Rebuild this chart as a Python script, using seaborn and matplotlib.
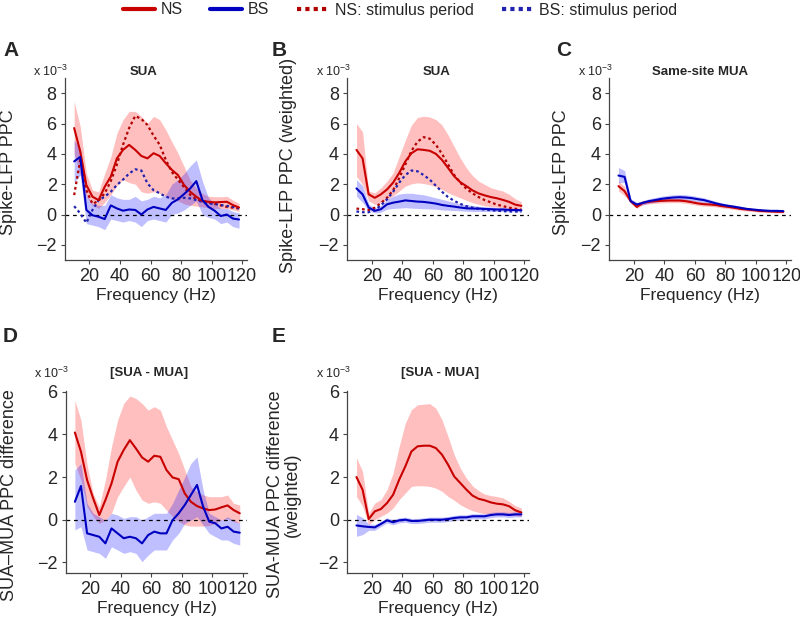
import matplotlib
matplotlib.use('Agg')
import matplotlib.pyplot as plt
from matplotlib.lines import Line2D
import numpy as np
import pandas as pd
import seaborn as sns

# frequency axis (Hz)
freq = list(range(10, 119, 4))

# ---- panel A: SUA ----
a_ns = [5.7, 4.15, 1.94, 1.17, 0.95, 1.83, 2.5, 3.7, 4.26, 4.59, 4.26, 3.86, 3.7, 4.04,
        3.86, 3.38, 2.94, 2.6, 1.94, 1.5, 1.17, 0.88, 0.84, 0.8, 0.82, 0.84, 0.62, 0.46]
a_ns_hi = [7.46, 5.8, 2.7, 1.6, 1.5, 2.7, 3.8, 5.36, 6.25, 6.8, 6.8, 6.47, 6.0, 6.47,
           6.25, 5.58, 4.8, 4.04, 3.16, 2.27, 1.72, 1.39, 1.2, 1.17, 1.17, 1.2, 0.95, 0.73]
a_ns_lo = [4.0, 2.6, 1.2, 0.6, 0.4, 0.8, 1.3, 1.9, 2.3, 2.1, 2.0, 1.5, 1.4, 1.5,
           1.4, 1.2, 1.0, 0.9, 0.7, 0.6, 0.55, 0.5, 0.45, 0.4, 0.4, 0.4, 0.3, 0.2]
a_bs = [3.5, 3.8, 0.3, -0.05, -0.15, -0.3, 0.6, 0.4, 0.25, 0.33, 0.3, 0.0, 0.33, 0.5,
        0.4, 0.3, 0.77, 1.0, 1.35, 1.72, 2.2, 0.95, 0.5, 0.25, -0.1, 0.0, -0.27, -0.33]
a_bs_hi = [4.9, 4.4, 1.3, 0.7, 0.6, 0.6, 1.3, 1.1, 1.0, 1.0, 1.2, 0.9, 1.0, 1.2,
           1.1, 1.3, 2.0, 2.3, 2.7, 3.2, 3.6, 2.2, 1.1, 0.7, 0.4, 0.4, 0.2, 0.1]
a_bs_lo = [2.1, 2.6, -0.6, -0.7, -0.8, -1.0, -0.3, -0.4, -0.5, -0.4, -0.5, -0.8, -0.4, -0.3,
           -0.4, -0.5, 0.0, 0.1, 0.3, 0.6, 0.9, 0.0, -0.2, -0.3, -0.6, -0.5, -0.8, -0.9]
a_ns_stim = [1.28, 3.6, 1.6, 0.7, 0.9, 1.4, 2.2, 3.3, 4.6, 5.7, 6.5, 6.3, 5.9, 5.2,
             4.6, 3.6, 2.8, 2.3, 1.8, 1.3, 1.0, 0.9, 0.8, 0.7, 0.6, 0.5, 0.45, 0.4]
a_bs_stim = [0.55, 0.07, -0.55, 0.3, 0.95, 1.17, 1.5, 1.95, 2.3, 2.7, 2.98, 2.9, 2.05, 1.6,
             1.4, 1.17, 1.06, 1.06, 1.1, 1.06, 0.95, 0.84, 0.73, 0.7, 0.62, 0.57, 0.5, 0.4]

# ---- panel B: SUA weighted ----
b_ns = [4.26, 3.7, 1.33, 1.1, 1.33, 1.65, 2.1, 2.74, 3.5, 4.04, 4.3, 4.26, 4.2, 4.0,
        3.6, 3.07, 2.52, 2.13, 1.87, 1.59, 1.39, 1.26, 1.15, 1.07, 0.96, 0.83, 0.65, 0.57]
b_ns_hi = [6.0, 5.45, 1.54, 1.43, 1.76, 2.2, 2.74, 3.83, 4.9, 5.9, 6.4, 6.48, 6.43, 6.26,
           5.9, 5.24, 4.48, 3.72, 3.07, 2.57, 2.2, 1.98, 1.76, 1.65, 1.54, 1.33, 1.04, 0.83]
b_ns_lo = [2.52, 1.98, 0.89, 0.67, 0.78, 1.0, 1.22, 1.54, 1.87, 2.02, 2.09, 2.04, 1.96, 1.83,
           1.65, 1.43, 1.26, 1.1, 0.93, 0.78, 0.67, 0.57, 0.52, 0.48, 0.43, 0.39, 0.35, 0.3]
b_bs = [1.72, 1.33, 0.46, 0.24, 0.35, 0.67, 0.78, 0.85, 0.93, 0.89, 0.85, 0.83, 0.78, 0.72,
        0.63, 0.57, 0.52, 0.46, 0.41, 0.39, 0.39, 0.37, 0.35, 0.33, 0.33, 0.3, 0.3, 0.28]
b_bs_hi = [2.3, 1.9, 0.7, 0.4, 0.6, 1.0, 1.2, 1.35, 1.4, 1.4, 1.35, 1.3, 1.2, 1.1,
           1.0, 0.9, 0.8, 0.7, 0.65, 0.6, 0.55, 0.5, 0.5, 0.45, 0.45, 0.42, 0.4, 0.38]
b_bs_lo = [1.2, 0.8, 0.25, 0.1, 0.15, 0.35, 0.4, 0.42, 0.45, 0.42, 0.4, 0.38, 0.37, 0.35,
           0.3, 0.28, 0.26, 0.24, 0.22, 0.2, 0.2, 0.2, 0.2, 0.2, 0.2, 0.18, 0.18, 0.18]
b_ns_stim = [0.39, 0.35, 0.3, 0.45, 0.75, 1.1, 1.6, 2.4, 3.3, 4.2, 4.8, 5.1, 5.0, 4.6,
             4.0, 3.3, 2.6, 2.1, 1.7, 1.4, 1.15, 0.95, 0.8, 0.65, 0.55, 0.45, 0.38, 0.32]
b_bs_stim = [0.2, 0.15, 0.15, 0.3, 0.6, 1.0, 1.5, 2.1, 2.6, 2.9, 2.85, 2.6, 2.3, 1.9,
             1.5, 1.15, 0.9, 0.7, 0.55, 0.45, 0.38, 0.32, 0.28, 0.25, 0.22, 0.2, 0.2, 0.18]

# ---- panel C: same-site MUA ----
c_ns = [1.87, 1.54, 0.88, 0.5, 0.77, 0.84, 0.88, 0.9, 0.92, 0.92, 0.92, 0.88, 0.81, 0.73,
        0.68, 0.66, 0.62, 0.55, 0.5, 0.44, 0.37, 0.33, 0.29, 0.24, 0.22, 0.2, 0.18, 0.18]
c_ns_hi = [2.2, 1.85, 1.0, 0.62, 0.9, 0.98, 1.02, 1.04, 1.06, 1.06, 1.06, 1.02, 0.95, 0.87,
           0.82, 0.79, 0.75, 0.68, 0.62, 0.56, 0.48, 0.44, 0.39, 0.34, 0.31, 0.29, 0.27, 0.27]
c_ns_lo = [1.55, 1.25, 0.76, 0.4, 0.64, 0.7, 0.74, 0.76, 0.78, 0.78, 0.78, 0.74, 0.67, 0.6,
           0.55, 0.53, 0.5, 0.43, 0.39, 0.33, 0.27, 0.23, 0.2, 0.15, 0.14, 0.12, 0.1, 0.1]
c_bs = [2.57, 2.48, 0.88, 0.66, 0.77, 0.88, 0.95, 1.03, 1.08, 1.12, 1.14, 1.12, 1.08, 1.01,
        0.95, 0.84, 0.73, 0.64, 0.57, 0.51, 0.44, 0.37, 0.33, 0.29, 0.26, 0.24, 0.24, 0.22]
c_bs_hi = [3.1, 2.9, 1.05, 0.8, 0.92, 1.04, 1.12, 1.2, 1.26, 1.3, 1.32, 1.3, 1.25, 1.17,
           1.1, 0.98, 0.86, 0.76, 0.68, 0.61, 0.54, 0.46, 0.41, 0.37, 0.33, 0.31, 0.31, 0.29]
c_bs_lo = [2.1, 2.1, 0.75, 0.55, 0.64, 0.74, 0.8, 0.87, 0.91, 0.95, 0.97, 0.95, 0.92, 0.86,
           0.8, 0.71, 0.61, 0.53, 0.47, 0.42, 0.35, 0.29, 0.26, 0.22, 0.2, 0.18, 0.18, 0.16]

# ---- panel D: SUA - MUA ----
d_ns = [4.09, 3.19, 1.86, 1.0, 0.22, 0.92, 1.7, 2.72, 3.27, 3.73, 3.34, 2.92, 2.72, 3.0,
        2.95, 2.33, 1.98, 1.9, 1.23, 0.84, 0.64, 0.53, 0.45, 0.48, 0.58, 0.67, 0.45, 0.3]
d_ns_hi = [5.6, 4.67, 2.56, 1.23, 0.6, 1.86, 3.42, 4.67, 5.45, 5.8, 5.69, 5.45, 5.14, 5.3,
           5.14, 4.36, 3.73, 3.1, 2.33, 1.55, 1.3, 1.16, 1.08, 1.08, 1.08, 1.16, 0.77, 0.69]
d_ns_lo = [2.64, 1.86, 0.6, 0.14, -0.17, -0.02, 0.3, 1.08, 1.55, 2.0, 1.39, 0.92, 0.77, 0.84,
           0.77, 0.45, 0.14, -0.09, -0.25, -0.3, -0.3, -0.3, -0.27, -0.17, -0.02, 0.06, -0.09, -0.17]
d_bs = [0.84, 1.58, -0.64, -0.72, -0.8, -1.11, -0.41, -0.64, -0.87, -0.8, -0.87, -1.11, -0.72, -0.56,
        -0.64, -0.64, -0.02, 0.3, 0.69, 1.16, 1.63, 0.61, -0.09, -0.17, -0.41, -0.33, -0.56, -0.61]
d_bs_hi = [2.33, 2.64, 0.77, 0.3, 0.14, -0.02, 0.3, 0.22, 0.06, 0.14, 0.14, -0.02, 0.14, 0.3,
           0.3, 0.3, 0.77, 1.39, 2.0, 2.64, 2.95, 1.39, 0.3, 0.14, -0.02, 0.14, -0.02, -0.17]
d_bs_lo = [-0.48, -0.33, -1.42, -1.5, -1.58, -1.81, -1.27, -1.42, -1.58, -1.5, -1.58, -1.97, -1.66, -1.42,
           -1.42, -1.42, -0.95, -0.64, -0.17, -0.02, 0.14, -0.25, -0.64, -0.8, -0.95, -0.95, -1.11, -1.19]

# ---- panel E: SUA - MUA weighted ----
e_ns = [2.0, 1.41, 0.03, 0.39, 0.5, 0.78, 1.17, 1.88, 2.5, 3.2, 3.44, 3.47, 3.47, 3.36,
        3.05, 2.58, 2.03, 1.72, 1.41, 1.13, 0.98, 0.91, 0.81, 0.75, 0.72, 0.63, 0.44, 0.34]
e_ns_hi = [2.9, 2.27, 0.31, 0.78, 0.94, 1.41, 2.19, 3.44, 4.53, 5.16, 5.39, 5.42, 5.44, 5.23,
           4.69, 3.9, 3.05, 2.42, 1.95, 1.59, 1.36, 1.2, 1.13, 1.09, 1.02, 0.86, 0.66, 0.55]
e_ns_lo = [1.09, 0.63, -0.23, 0.0, 0.16, 0.31, 0.55, 0.94, 1.25, 1.56, 1.59, 1.59, 1.56, 1.48,
           1.33, 1.09, 0.91, 0.7, 0.55, 0.42, 0.34, 0.28, 0.27, 0.23, 0.23, 0.23, 0.2, 0.16]
e_bs = [-0.27, -0.31, -0.34, -0.36, -0.2, -0.03, -0.12, -0.03, 0.0, -0.06, -0.06, -0.03, 0.0, 0.0,
        0.0, 0.03, 0.08, 0.11, 0.11, 0.16, 0.16, 0.16, 0.22, 0.25, 0.25, 0.22, 0.25, 0.25]
e_bs_hi = [0.25, 0.1, -0.2, -0.22, -0.08, 0.09, 0.0, 0.09, 0.12, 0.06, 0.06, 0.09, 0.12, 0.12,
           0.12, 0.15, 0.2, 0.23, 0.23, 0.28, 0.28, 0.28, 0.34, 0.37, 0.37, 0.34, 0.37, 0.37]
e_bs_lo = [-0.78, -0.7, -0.5, -0.5, -0.32, -0.15, -0.24, -0.15, -0.12, -0.18, -0.18, -0.15, -0.12, -0.12,
           -0.12, -0.09, -0.04, -0.01, -0.01, 0.04, 0.04, 0.04, 0.1, 0.13, 0.13, 0.1, 0.13, 0.13]

NS_C = '#C80000'
BS_C = '#0000C0'
NS_STIM = '#B00000'
BS_STIM = '#2222B0'

sns.set_style('ticks')
plt.rcParams['font.family'] = ['Liberation Sans', 'DejaVu Sans']
plt.rcParams['mathtext.fontset'] = 'custom'
plt.rcParams['mathtext.rm'] = 'Liberation Sans'

fig = plt.figure(figsize=(8, 6.17), dpi=100)
W, H = 800, 617


def make_ax(left, top, bottom):
    return fig.add_axes([left / W, 1 - bottom / H, 181.7 / W, (bottom - top) / H])


def draw_panel(ax, ns, ns_lo, ns_hi, bs, bs_lo, bs_hi, ns_stim=None, bs_stim=None,
               ylim=(-3, 9), yticks=(-2, 0, 2, 4, 6, 8)):
    ax.fill_between(freq, ns_lo, ns_hi, color=(1, 0, 0), alpha=0.25, lw=0)
    ax.fill_between(freq, bs_lo, bs_hi, color=(0, 0, 1), alpha=0.25, lw=0)
    ax.axhline(0, color='black', lw=0.9, dashes=(3, 3), zorder=1)
    if ns_stim is not None:
        sns.lineplot(x=freq, y=ns_stim, ax=ax, color=NS_STIM, lw=1.6)
        ax.lines[-1].set_dashes((1.2, 1.3))
        sns.lineplot(x=freq, y=bs_stim, ax=ax, color=BS_STIM, lw=1.6)
        ax.lines[-1].set_dashes((1.2, 1.3))
    sns.lineplot(x=freq, y=ns, ax=ax, color=NS_C, lw=1.5)
    sns.lineplot(x=freq, y=bs, ax=ax, color=BS_C, lw=1.5)
    ax.set_xlim(4, 123)
    ax.set_ylim(*ylim)
    ax.set_xticks([20, 40, 60, 80, 100, 120])
    ax.set_yticks(list(yticks))
    ax.tick_params(labelsize=13, length=3, width=0.8, color='#444444', pad=3)
    for s in ['top', 'right']:
        ax.spines[s].set_visible(False)
    for s in ['left', 'bottom']:
        ax.spines[s].set_color('#444444')
        ax.spines[s].set_linewidth(0.9)
    ax.set_xlabel('Frequency (Hz)', fontsize=12.5, labelpad=2)


axA = make_ax(65, 78, 260)
axB = make_ax(347.3, 78, 260)
axC = make_ax(609.3, 78, 260)
axD = make_ax(65.7, 390.7, 573)
axE = make_ax(347.3, 390.7, 573)

draw_panel(axA, a_ns, a_ns_lo, a_ns_hi, a_bs, a_bs_lo, a_bs_hi, a_ns_stim, a_bs_stim)
draw_panel(axB, b_ns, b_ns_lo, b_ns_hi, b_bs, b_bs_lo, b_bs_hi, b_ns_stim, b_bs_stim)
draw_panel(axC, c_ns, c_ns_lo, c_ns_hi, c_bs, c_bs_lo, c_bs_hi)
draw_panel(axD, d_ns, d_ns_lo, d_ns_hi, d_bs, d_bs_lo, d_bs_hi,
           ylim=(-2.5, 6.05), yticks=(-2, 0, 2, 4, 6))
draw_panel(axE, e_ns, e_ns_lo, e_ns_hi, e_bs, e_bs_lo, e_bs_hi,
           ylim=(-2.5, 6.05), yticks=(-2, 0, 2, 4, 6))

ylabels = [(axA, 'Spike-LFP PPC', -0.265, 0.48), (axB, 'Spike-LFP PPC (weighted)', -0.275, 0.52),
           (axC, 'Spike-LFP PPC', -0.215, 0.48), (axD, 'SUA\u2013MUA PPC difference', -0.265, 0.43),
           (axE, 'SUA-MUA PPC difference\n(weighted)', -0.255, 0.43)]
for ax, lab, xc, yc in ylabels:
    ax.set_ylabel(lab, fontsize=13, linespacing=1.0)
    ax.yaxis.set_label_coords(xc, yc)

titles = [(axA, 'SUA', 0.43, 1.035), (axB, 'SUA', 0.49, 1.035), (axC, 'Same-site MUA', 0.5, 1.035),
          (axD, '[SUA - MUA]', 0.46, 1.097), (axE, '[SUA - MUA]', 0.51, 1.097)]
for ax, t, xt, yt in titles:
    ax.text(xt, yt, t, transform=ax.transAxes, ha='center', va='center',
            fontsize=9.5, fontweight='bold')
    ax.text(-0.175, yt, r'x 10$^{-3}$', transform=ax.transAxes, ha='left', va='center',
            fontsize=9)

for lab, x, y in [('A', 3, 50), ('B', 272, 50), ('C', 556, 50), ('D', 3, 337), ('E', 272, 337)]:
    fig.text(x / W, 1 - y / H, lab, fontsize=15, fontweight='bold', ha='left', va='center')

handles = [Line2D([], [], color=NS_C, lw=3),
           Line2D([], [], color=BS_C, lw=3),
           Line2D([], [], color=NS_STIM, lw=3, dashes=(1, 1)),
           Line2D([], [], color=BS_STIM, lw=3, dashes=(1, 1))]
fig.legend(handles, ['NS', 'BS', 'NS: stimulus period', 'BS: stimulus period'],
           loc='center', bbox_to_anchor=(400 / W, 1 - 10 / H), ncol=4, frameon=False,
           fontsize=11.5, handlelength=2.0, columnspacing=1.75, handletextpad=0.35,
           borderpad=0.1)

fig.savefig('out.png', dpi=100)
